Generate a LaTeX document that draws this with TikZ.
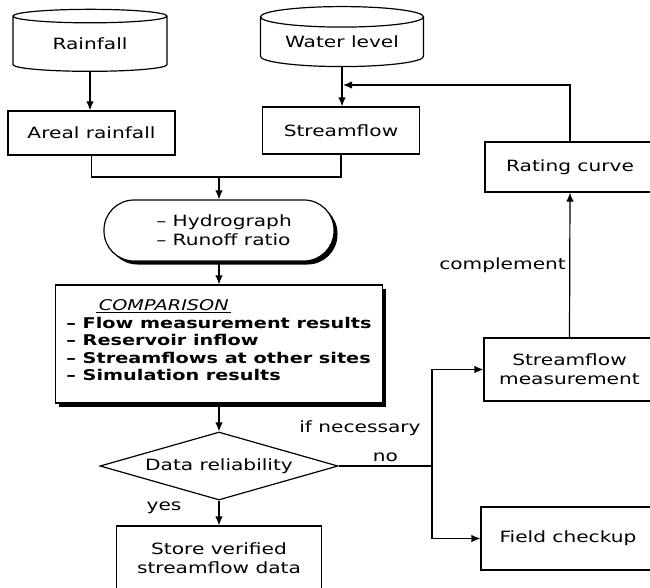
\documentclass[tikz,border=0pt]{standalone}
\usepackage{fontspec}
\setmainfont{DejaVu Sans}[FakeStretch=1.3,BoldFont={DejaVu Sans Bold},ItalicFont={DejaVu Sans Oblique}]
\usetikzlibrary{shapes.geometric, arrows.meta, shadows}
\tikzstyle{lbl}=[font=\fontsize{15.5}{19}\selectfont]
\tikzstyle{box}=[lbl,rectangle,draw,line width=1.2pt,inner sep=0,align=center]
\tikzstyle{drum}=[lbl,cylinder,shape border rotate=90,aspect=0.18,draw,line width=1.2pt,inner sep=0]
\tikzstyle{arrow}=[line width=1.2pt,-{Latex[length=9pt,width=7.5pt]}]
\tikzstyle{wire}=[line width=1.2pt]
\tikzstyle{shadowed}=[fill=white,drop shadow={shadow xshift=3.5pt,shadow yshift=-3.5pt,opacity=1,fill=black}]

\begin{document}
\begin{tikzpicture}[x=1pt,y=-1pt]
\useasboundingbox (0,0) rectangle (650,587);
\clip (0,0) rectangle (650,587);

% data sources
\node[drum,minimum width=154pt,minimum height=62pt] (rain) at (90,44) {Rainfall};
\node[drum,minimum width=163pt,minimum height=60pt] (wlev) at (342,42) {Water level};

% first steps
\node[box,minimum width=167pt,minimum height=44pt] (areal) at (91.5,133) {Areal rainfall};
\node[box,minimum width=157pt,minimum height=47pt] (sflow) at (341,130.5) {Streamflow};
\node[box,minimum width=170pt,minimum height=50pt] (rating) at (570,167) {Rating curve};

% main column
\node[box,shadowed,rounded corners=30pt,minimum width=230pt,minimum height=61pt,align=left] (hydro) at (219,230.5)
	{\hspace*{10pt}-- Hydrograph\\\hspace*{10pt}-- Runoff ratio};
\node[box,shadowed,minimum width=327pt,minimum height=118pt,align=left,font=\fontsize{14.8}{17.5}\selectfont\bfseries] (comp) at (219,344)
	{\hspace*{30pt}\underline{\,\textit{\mdseries COMPARISON}\,}\\
	-- Flow measurement results\\
	-- Reservoir inflow\\
	-- Streamflows at other sites\\
	-- Simulation results\\[-9.5pt]\mbox{}};
\node[lbl,diamond,aspect=3.5,draw,line width=1.2pt,minimum width=238pt,minimum height=68pt,inner sep=0] (rel) at (219,466) {Data reliability};
\node[box,minimum width=205pt,minimum height=64pt] (store) at (219,558) {Store verified\\streamflow data};

% right column
\node[box,minimum width=171pt,minimum height=63pt] (smeas) at (569.5,369.5) {Streamflow\\measurement};
\node[box,minimum width=174pt,minimum height=63pt] (field) at (568,538.5) {Field checkup};

% connectors
\draw[arrow] (rain.south) -- (rain.south |- areal.north);
\draw[arrow] (wlev.south) -- (wlev.south |- sflow.north);
\coordinate (fb) at (343,85);
\draw[arrow] (rating.north) |- (fb);
\coordinate (merge) at (219,177);
\draw[wire] (areal.south) |- (merge) -| (sflow.south);
\draw[arrow] (merge) -- (hydro.north);
\draw[arrow] (hydro.south) -- (comp.north);
\draw[arrow] (comp.south) -- (rel.north);
\draw[arrow] (rel.south) -- (store.north);
\coordinate (split) at (432,466);
\draw[wire] (rel.east) -- node[lbl,above] (no) {no} (split);
\draw[arrow] (split) |- (smeas.west);
\draw[arrow] (split) |- (field.west);
\draw[arrow] (smeas.north) -- node[lbl,left] (compl) {complement} (rating.south);

\node[lbl] (ifnec) at (360,428) {if necessary};
\node[lbl] (yes) at (164,508) {yes};
\end{tikzpicture}
\end{document}
